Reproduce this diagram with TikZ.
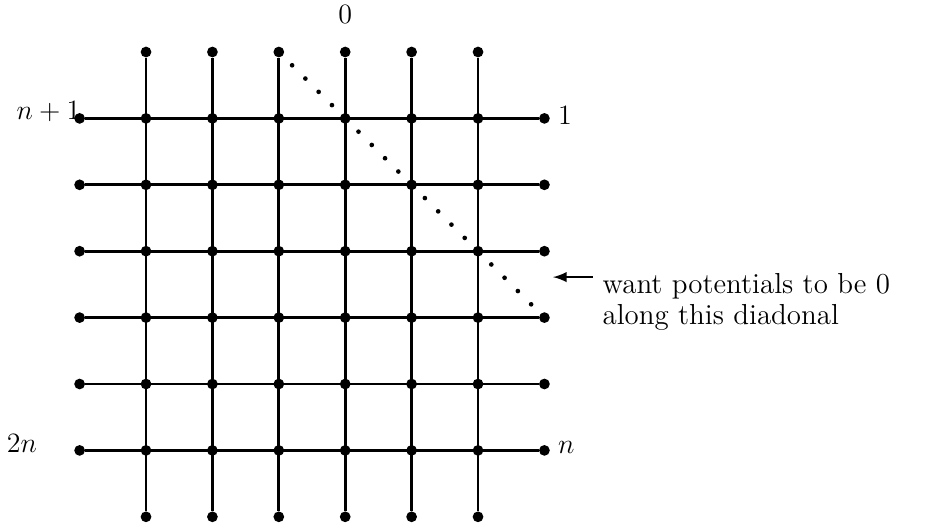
\documentclass[tikz,border=0pt]{standalone}
\usetikzlibrary{positioning}
\begin{document}
\begin{tikzpicture}[
    font=\fontsize{12.4}{13}\selectfont,
    dot/.style={circle, fill, inner sep=0pt, minimum size=4.6pt},
    wire/.style={line width=1.2pt}
]
    \useasboundingbox (-1.199,0.783) rectangle (12.807,-7.154);

    % 1. 端点和内部格点
    \foreach \i in {1,...,6} {
        \node[dot] (t\i) at (\i,0) {};
        \node[dot] (b\i) at (\i,-7) {};
        \node[dot] (l\i) at (0,-\i) {};
        \node[dot] (r\i) at (7,-\i) {};
        \foreach \j in {1,...,6} {
            \node[dot] (v\i\j) at (\i,-\j) {};
        }
    }

    % 2. 网格线 (竖线和横线)
    \foreach \i in {1,...,6} {
        \draw[wire] (t\i) -- (b\i);
        \draw[wire] (l\i) -- (r\i);
    }

    % 3. 对角线 (点线)
    \foreach \k in {1,...,19} {
        \fill (3+0.2*\k,-0.2*\k) circle (1pt);
    }

    % 4. 标注
    \node (lab0) at (4,0.57) {$0$};
    \node[anchor=east, inner sep=0pt] (labn1) at (0.02,-0.90) {$n+1$};
    \node (lab1) at (7.31,-0.96) {$1$};
    \node (lab2n) at (-0.87,-5.89) {$2n$};
    \node (labn) at (7.33,-5.96) {$n$};

    % 5. 箭头和说明文字
    \coordinate (tip) at (7.13,-3.39);
    \coordinate (tail) at (7.73,-3.39);
    \draw[<-, >=latex, line width=1pt] (tip) -- (tail);
    \node[anchor=north west, align=left, inner sep=0pt] (note) at (7.87,-3.33)
        {want potentials to be 0\\along this diadonal};

\end{tikzpicture}
\end{document}
